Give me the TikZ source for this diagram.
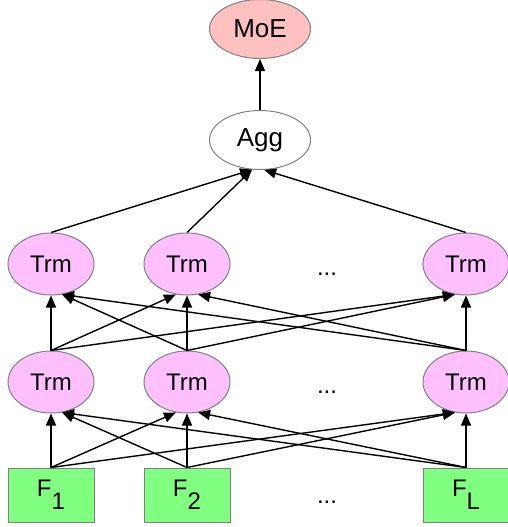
\documentclass[tikz,border=0pt]{standalone}
\usepackage{fontspec}
\setmainfont{Liberation Sans}
\usetikzlibrary{shapes.geometric,arrows.meta}

\definecolor{rosemoe}{RGB}{255,192,192}
\definecolor{rosetrm}{RGB}{255,192,255}
\definecolor{vertf}{RGB}{128,255,128}
\definecolor{bord}{RGB}{128,128,128}

\newcommand{\Fsub}[1]{F\raisebox{-13pt}{#1}}

\begin{document}
\begin{tikzpicture}[x=1pt, y=-1pt,
        every node/.style={font=\fontsize{24}{28}\selectfont},
        trm/.style={draw=bord, line width=1pt, ellipse, fill=rosetrm, minimum width=86pt, minimum height=62pt, inner sep=0pt},
        agr/.style={draw=bord, line width=1pt, ellipse, minimum width=101pt, minimum height=59pt, inner sep=0pt, font=\fontsize{26}{30}\selectfont},
        feat/.style={draw=bord, line width=1pt, rectangle, fill=vertf, minimum width=86pt, minimum height=54pt, inner sep=0pt},
        fleche/.style={-{Triangle[length=12pt, width=10pt]}, line width=1.4pt}]
        \useasboundingbox (0, 0) rectangle (507, 527);

        \node[agr, fill=rosemoe] (MoE) at (260, 29) {MoE};
        \node[agr, fill=white] (Agg) at (260, 140) {Agg};

        \node[trm] (B1) at (51, 264) {Trm};
        \node[trm] (B2) at (187, 264) {Trm};
        \node[trm] (BL) at (466, 264) {Trm};
        \node[anchor=base] (pB) at (327, 275) {...};

        \node[trm] (A1) at (51, 382) {Trm};
        \node[trm] (A2) at (187, 382) {Trm};
        \node[trm] (AL) at (466, 382) {Trm};
        \node[anchor=base] (pA) at (327, 393) {...};

        \node[feat] (F1) at (51, 495) {\Fsub{1}};
        \node[feat] (F2) at (187, 495) {\Fsub{2}};
        \node[feat] (FL) at (466, 495) {\Fsub{L}};
        \node[anchor=base] (pF) at (327, 503) {...};

        \draw[fleche] (F1.north) to (A1.south);
        \draw[fleche] (F1.north) to (A2.-110);
        \draw[fleche] (F1.north) to (AL.-110);
        \draw[fleche] (F2.north) to (A1.-70);
        \draw[fleche] (F2.north) to (A2.south);
        \draw[fleche] (F2.north) to (AL.-110);
        \draw[fleche] (FL.north) to (A1.-70);
        \draw[fleche] (FL.north) to (A2.-70);
        \draw[fleche] (FL.north) to (AL.south);

        \draw[fleche] (A1.north) to (B1.south);
        \draw[fleche] (A1.north) to (B2.-110);
        \draw[fleche] (A1.north) to (BL.-110);
        \draw[fleche] (A2.north) to (B1.-70);
        \draw[fleche] (A2.north) to (B2.south);
        \draw[fleche] (A2.north) to (BL.-110);
        \draw[fleche] (AL.north) to (B1.-70);
        \draw[fleche] (AL.north) to (B2.-70);
        \draw[fleche] (AL.north) to (BL.south);

        \draw[fleche] (B1.north) to (Agg.-105);
        \draw[fleche] (B2.north) to (Agg.-105);
        \draw[fleche] (BL.north) to (Agg.-82);

        \draw[fleche] (Agg.north) to (MoE.south);
    \end{tikzpicture}
\end{document}
